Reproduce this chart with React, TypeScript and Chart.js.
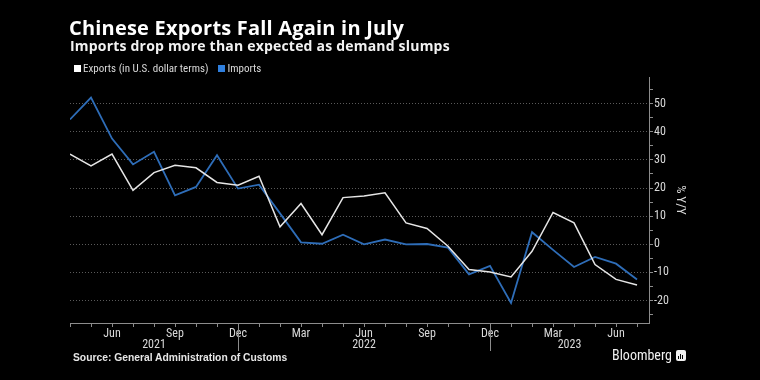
import React, { useEffect, useRef } from "react";
import { Chart, registerables } from "chart.js";

Chart.register(...registerables);

const months = [
  "Apr", "May", "Jun", "Jul", "Aug", "Sep", "Oct", "Nov", "Dec",
  "Jan", "Feb", "Mar", "Apr", "May", "Jun", "Jul", "Aug", "Sep", "Oct", "Nov", "Dec",
  "Jan", "Feb", "Mar", "Apr", "May", "Jun", "Jul",
];
const years = [
  2021, 2021, 2021, 2021, 2021, 2021, 2021, 2021, 2021,
  2022, 2022, 2022, 2022, 2022, 2022, 2022, 2022, 2022, 2022, 2022, 2022,
  2023, 2023, 2023, 2023, 2023, 2023, 2023,
];
const labeledMonths = ["Mar", "Jun", "Sep", "Dec"];

const exportsYoY = [
  32.1, 27.9, 32.1, 19.2, 25.5, 28.1, 27.2, 22.0, 21.0,
  24.2, 6.2, 14.5, 3.4, 16.6, 17.2, 18.3, 7.6, 5.6, -0.7, -9.0, -9.9,
  -11.6, -2.5, 11.3, 7.6, -7.2, -12.5, -14.5,
];
const importsYoY = [
  44.4, 52.2, 37.6, 28.4, 32.9, 17.4, 20.4, 31.7, 19.8,
  21.2, 11.0, 0.7, 0.2, 3.4, 0.0, 1.7, 0.0, 0.1, -1.2, -10.7, -7.7,
  -20.9, 4.3, -2.0, -8.1, -4.5, -6.9, -12.5,
];
const yTicks = [-25, -20, -15, -10, -5, 0, 5, 10, 15, 20, 25, 30, 35, 40, 45, 50, 55];

const EXPORT_COLOR = "#e6e6e6";
const IMPORT_COLOR = "#2e6db8";
const LEGEND_BLUE = "#2f7fde";
const TEXT = "#d9d9d9";
const AXIS = "#8c8c8c";
const FONT = "'Liberation Sans Narrow', 'Roboto Condensed', 'Liberation Sans', Arial, sans-serif";

const yearPlugin = {
  id: "yearLabels",
  afterDraw(chart: any) {
    const { ctx, chartArea } = chart;
    const x = chart.scales.x;
    const sepIdx: number[] = [];
    for (let i = 0; i < years.length - 1; i++) {
      if (years[i + 1] !== years[i]) sepIdx.push(i);
    }
    const seps = sepIdx.map((i) => x.getPixelForValue(i));
    const uniq = Array.from(new Set(years));
    ctx.save();
    ctx.strokeStyle = AXIS;
    ctx.lineWidth = 1;
    seps.forEach((px) => {
      const p = Math.round(px) + 0.5;
      ctx.beginPath();
      ctx.moveTo(p, chartArea.bottom + 4);
      ctx.lineTo(p, chartArea.bottom + 28);
      ctx.stroke();
    });
    ctx.fillStyle = TEXT;
    ctx.font = "12px " + FONT;
    ctx.textAlign = "center";
    ctx.textBaseline = "middle";
    uniq.forEach((yr, k) => {
      const start = k === 0 ? chartArea.left : seps[k - 1];
      const end = k < seps.length ? seps[k] : chartArea.right;
      ctx.fillText(String(yr), (start + end) / 2, chartArea.bottom + 22);
    });
    ctx.restore();
  },
};

export default function App() {
  const ref = useRef<HTMLCanvasElement | null>(null);

  useEffect(() => {
    document.body.style.margin = "0";
    document.body.style.background = "#000";
    const canvas = ref.current;
    if (!canvas) return;
    const chart = new Chart(canvas, {
      type: "line",
      data: {
        datasets: [
          {
            label: "Exports (in U.S. dollar terms)",
            data: exportsYoY.map((v, i) => ({ x: i, y: v })),
            borderColor: EXPORT_COLOR,
            borderWidth: 1.5,
            pointRadius: 0,
            tension: 0,
          },
          {
            label: "Imports",
            data: importsYoY.map((v, i) => ({ x: i, y: v })),
            borderColor: IMPORT_COLOR,
            borderWidth: 1.8,
            pointRadius: 0,
            tension: 0,
          },
        ],
      },
      options: {
        responsive: false,
        animation: false,
        layout: { padding: { left: 70, right: 68, top: 77, bottom: 0 } },
        plugins: {
          legend: { display: false },
          tooltip: { enabled: false },
        },
        scales: {
          x: {
            type: "linear",
            min: 0,
            max: 27.57,
            afterBuildTicks: (scale: any) => {
              scale.ticks = months.map((_, i) => ({ value: i }));
            },
            afterFit: (scale: any) => {
              scale.height = 57;
            },
            ticks: {
              autoSkip: false,
              maxRotation: 0,
              padding: 0,
              color: TEXT,
              font: { family: FONT, size: 12 },
              callback: (v: any) => {
                const m = months[Math.round(Number(v))];
                return labeledMonths.includes(m) ? m : "";
              },
            },
            grid: {
              drawOnChartArea: false,
              drawTicks: true,
              tickLength: 4,
              tickColor: AXIS,
            },
            border: { display: true, color: AXIS, width: 1 },
          },
          y: {
            type: "linear",
            position: "right",
            min: -28,
            max: 59.5,
            afterBuildTicks: (scale: any) => {
              scale.ticks = yTicks.map((v) => ({ value: v }));
            },
            afterFit: (scale: any) => {
              scale.width = 43;
            },
            ticks: {
              autoSkip: false,
              padding: 1,
              color: TEXT,
              font: { family: FONT, size: 12 },
              callback: (v: any) => (Number(v) % 10 === 0 ? String(v) : ""),
            },
            grid: {
              color: (c: any) =>
                c.tick && c.tick.value % 10 === 0 ? "#5a5a5a" : "rgba(0,0,0,0)",
              tickColor: AXIS,
              tickLength: 4,
              lineWidth: 1,
            },
            border: { display: true, color: AXIS, width: 1, dash: [1, 2] },
            title: {
              display: true,
              text: "% Y/Y",
              color: TEXT,
              font: { family: FONT, size: 13 },
              padding: 4,
            },
          },
        },
      },
      plugins: [yearPlugin],
    });
    return () => chart.destroy();
  }, []);

  const head = "'Open Sans', 'Liberation Sans', Arial, sans-serif";
  const sans = "'Liberation Sans', Arial, sans-serif";
  return (
    <div
      style={{
        position: "absolute",
        left: 0,
        top: 0,
        width: 760,
        height: 380,
        background: "#000",
        overflow: "hidden",
        fontFamily: sans,
      }}
    >
      <canvas ref={ref} width={760} height={380} style={{ position: "absolute", left: 0, top: 0, width: 760, height: 380 }} />
      <div style={{ position: "absolute", left: 69, top: 16, fontSize: 20, lineHeight: "23px", fontWeight: 700, letterSpacing: "0.2px", color: "#fff", whiteSpace: "nowrap", fontFamily: head }}>
        Chinese Exports Fall Again in July
      </div>
      <div style={{ position: "absolute", left: 70, top: 37, fontSize: 14, lineHeight: "18px", fontWeight: 700, letterSpacing: "0.2px", color: "#f2f2f2", whiteSpace: "nowrap", fontFamily: head }}>
        Imports drop more than expected as demand slumps
      </div>
      <div style={{ position: "absolute", left: 74, top: 62, fontSize: 11, lineHeight: "13px", color: TEXT, whiteSpace: "nowrap", display: "flex", alignItems: "center", fontFamily: FONT }}>
        <span style={{ display: "inline-block", width: 7, height: 7, background: "#fff", marginRight: 2 }} />
        <span>Exports (in U.S. dollar terms)</span>
        <span style={{ display: "inline-block", width: 7, height: 7, background: LEGEND_BLUE, marginLeft: 10, marginRight: 2 }} />
        <span>Imports</span>
      </div>
      <div style={{ position: "absolute", left: 73, top: 352, fontSize: 10.3, lineHeight: "12px", fontWeight: 700, color: "#e6e6e6", whiteSpace: "nowrap" }}>
        Source: General Administration of Customs
      </div>
      <div style={{ position: "absolute", left: 612, top: 347, fontSize: 14, lineHeight: "16px", color: "#f0f0f0", whiteSpace: "nowrap", display: "flex", alignItems: "center", fontFamily: FONT }}>
        <span>Bloomberg</span>
        <span style={{ display: "inline-flex", alignItems: "flex-end", justifyContent: "center", gap: 1, width: 10, height: 11, background: "#f0f0f0", borderRadius: 2, marginLeft: 4, padding: "0 1px 2px", boxSizing: "border-box" }}>
          <span style={{ width: 1, height: 3, background: "#000" }} />
          <span style={{ width: 1, height: 5, background: "#000" }} />
          <span style={{ width: 1, height: 4, background: "#000" }} />
        </span>
      </div>
    </div>
  );
}
